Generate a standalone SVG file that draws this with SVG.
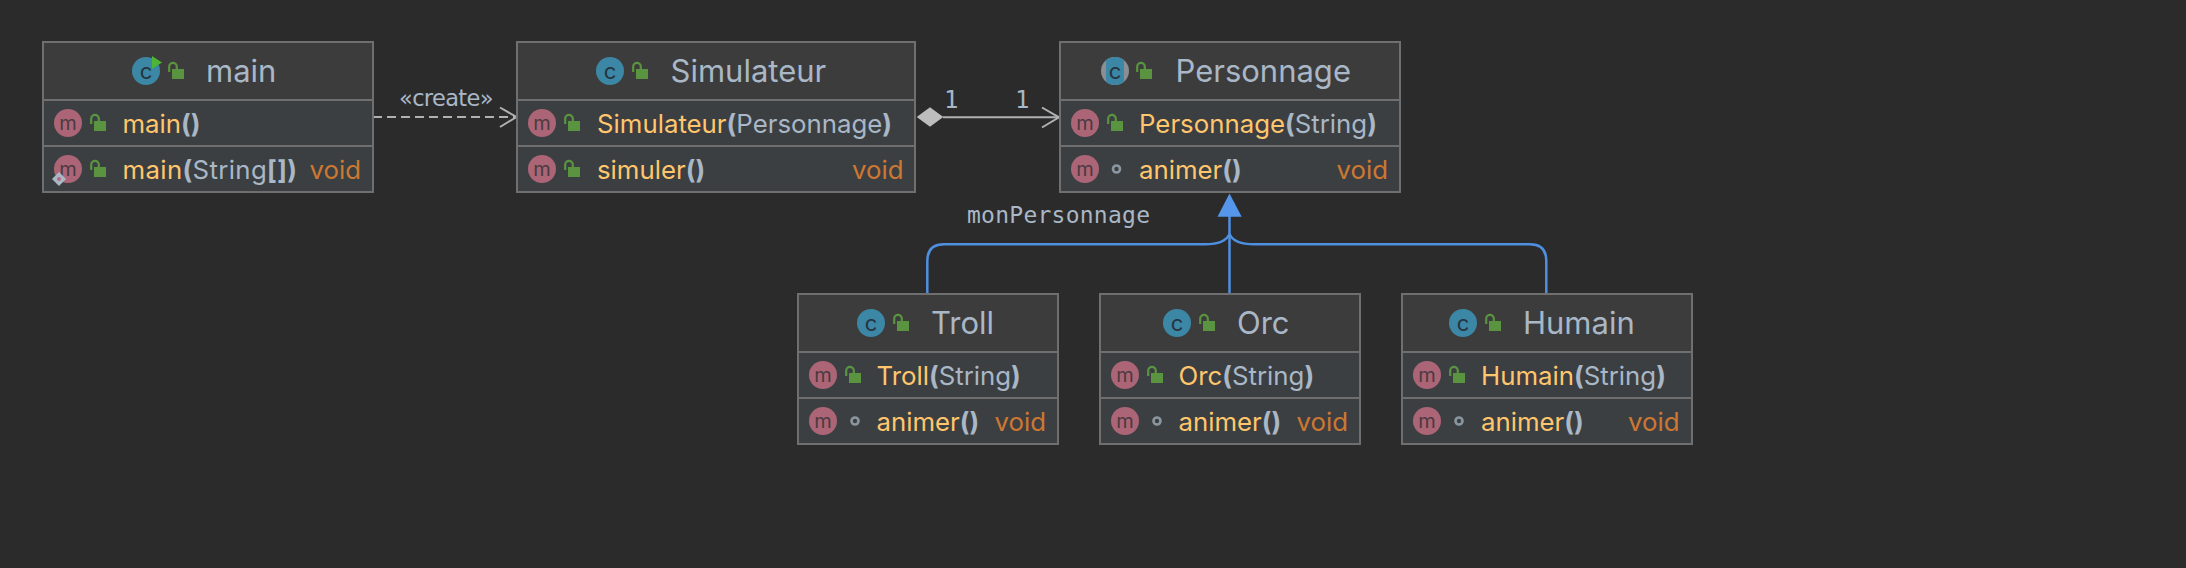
<svg xmlns="http://www.w3.org/2000/svg" width="2186" height="568" viewBox="0 0 2186 568">
<style>
.bg{fill:#2b2b2b}
.box{fill:#3c3f41;stroke:#6f6f6f;stroke-width:2}
.head{fill:#3c3c3c}
.sep{stroke:#6f6f6f;stroke-width:2;fill:none}
text{font-family:"Inter","Liberation Sans",sans-serif}
.title{font-size:31px;fill:#a9b7c6}
.row{font-size:25.800px;fill:#a9b7c6}
.n{fill:#ffc66d}
.b{font-weight:700}
.v{fill:#cc7832}
.lab{font-family:"DejaVu Sans Mono","Liberation Mono",monospace;font-size:23px;fill:#a9b7c6}
.cr{font-family:"DejaVu Sans","Liberation Sans",sans-serif;font-size:22.500px;fill:#a9b7c6}
.line{stroke:#afb1b3;stroke-width:2;fill:none}
.blue{stroke:#4f8fe0;stroke-width:2.500;fill:none}
.lk{fill:#5a9440}
.lks{fill:none;stroke:#5a9440;stroke-width:2.200}
.ct{font-size:22px;fill:#26343f;text-anchor:middle}
.mt{font-size:20px;fill:#4a3a40;text-anchor:middle}
</style>
<defs>
<g id="ic"><circle r="14" fill="#3b87a5"/><text class="ct" y="7.500">c</text></g>
<clipPath id="mid"><rect x="-9" y="-14" width="18" height="28"/></clipPath>
<g id="ia"><circle r="14" fill="#8a8f94"/><circle r="14" fill="#3b87a5" clip-path="url(#mid)"/><text class="ct" y="7.500">c</text></g>
<g id="im"><circle r="14" fill="#ab6576"/><text class="mt" y="6.500">m</text></g>
<g id="lk"><rect x="4" y="6" width="12" height="10" class="lk"/><path d="M1.200 9V3.600a3.800 3.800 0 0 1 7.600 0V6" class="lks"/></g>
<circle id="pk" r="3.500" fill="none" stroke="#8a96a0" stroke-width="2.600"/>
</defs>
<rect class="bg" width="2186" height="568"/>
<g id="connectors">
<path class="line" d="M373 117H516" stroke-dasharray="9 5"/>
<path class="line" d="M500 107.500L516.500 117L500 127"/>
<text class="cr" x="399" y="105.500" textLength="94.500" lengthAdjust="spacing">«create»</text>
<path class="line" d="M943 117.300H1059"/>
<path class="line" d="M1042 107.500L1059 117.300L1042 127.500"/>
<path d="M916.700 117L930 107.300L943.300 117L930 126.700Z" fill="#bdbdbd"/>
<text class="lab" x="944" y="107.500" style="font-size:24px">1</text>
<text class="lab" x="1015" y="107.500" style="font-size:24px">1</text>
<text class="lab" x="967" y="223.300" textLength="183" lengthAdjust="spacing">monPersonnage</text>
<path class="blue" d="M1229.500 294V214"/>
<path class="blue" d="M927.300 294V261Q927.300 244.300 944 244.300H1205Q1225 244.300 1229.500 234"/>
<path class="blue" d="M1546.300 294V261Q1546.300 244.300 1530 244.300H1254Q1234 244.300 1229.500 234"/>
<path d="M1229.500 193.500L1241.700 216.800H1217.500Z" fill="#5596ea"/>
</g>
<g id="main">
<rect class="box" x="43" y="42" width="330" height="150"/>
<rect class="head" x="44" y="43" width="328" height="57"/>
<path class="sep" d="M43 100H373M43 146H373"/>
<use href="#ic" x="146" y="71"/>
<path d="M152 56L162 62.500L152 69Z" fill="#4cb534"/>
<use href="#lk" x="168" y="63"/>
<text class="title" x="206" y="82">main</text>
<use href="#im" x="68" y="123"/><use href="#lk" x="90" y="115"/>
<text class="row" x="122.500" y="133"><tspan class="n">main</tspan><tspan class="b">()</tspan></text>
<use href="#im" x="68" y="169"/><use href="#lk" x="90" y="161"/>
<path d="M59 172L66 179L59 186L52 179Z" fill="#a9b7c6"/><circle cx="59" cy="179" r="2" fill="#b56a7c"/>
<text class="row" x="122.500" y="179" style="letter-spacing:.35px"><tspan class="n">main</tspan><tspan class="b">(</tspan>String<tspan class="b">[])</tspan></text>
<text class="row v" x="309.500" y="179">void</text>
</g>
<g id="simulateur">
<rect class="box" x="517" y="42" width="398" height="150"/>
<rect class="head" x="518" y="43" width="396" height="57"/>
<path class="sep" d="M517 100H915M517 146H915"/>
<use href="#ic" x="610" y="71"/>
<use href="#lk" x="632" y="63"/>
<text class="title" x="670.500" y="82">Simulateur</text>
<use href="#im" x="542" y="123"/><use href="#lk" x="564" y="115"/>
<text class="row" x="597" y="133"><tspan class="n">Simulateur</tspan><tspan class="b">(</tspan>Personnage<tspan class="b">)</tspan></text>
<use href="#im" x="542" y="169"/><use href="#lk" x="564" y="161"/>
<text class="row" x="597" y="179"><tspan class="n">simuler</tspan><tspan class="b">()</tspan></text>
<text class="row v" x="852" y="179">void</text>
</g>
<g id="personnage">
<rect class="box" x="1060" y="42" width="340" height="150"/>
<rect class="head" x="1061" y="43" width="338" height="57"/>
<path class="sep" d="M1060 100H1400M1060 146H1400"/>
<use href="#ia" x="1115" y="71"/>
<use href="#lk" x="1136" y="63"/>
<text class="title" x="1175.500" y="82">Personnage</text>
<use href="#im" x="1085" y="123"/><use href="#lk" x="1107" y="115"/>
<text class="row" x="1139" y="133"><tspan class="n">Personnage</tspan><tspan class="b">(</tspan>String<tspan class="b">)</tspan></text>
<use href="#im" x="1085" y="169"/><use href="#pk" x="1116.500" y="169"/>
<text class="row" x="1139" y="179"><tspan class="n">animer</tspan><tspan class="b">()</tspan></text>
<text class="row v" x="1336.500" y="179">void</text>
</g>
<g id="troll">
<rect class="box" x="798" y="294" width="260" height="150"/>
<rect class="head" x="799" y="295" width="258" height="57"/>
<path class="sep" d="M798 352H1058M798 398H1058"/>
<use href="#ic" x="871" y="323"/>
<use href="#lk" x="893" y="315"/>
<text class="title" x="931" y="334">Troll</text>
<use href="#im" x="823" y="375"/><use href="#lk" x="845" y="367"/>
<text class="row" x="876.500" y="385"><tspan class="n">Troll</tspan><tspan class="b">(</tspan>String<tspan class="b">)</tspan></text>
<use href="#im" x="823" y="421"/><use href="#pk" x="855" y="421"/>
<text class="row" x="876.500" y="431"><tspan class="n">animer</tspan><tspan class="b">()</tspan></text>
<text class="row v" x="994.500" y="431">void</text>
</g>
<g id="orc">
<rect class="box" x="1100" y="294" width="260" height="150"/>
<rect class="head" x="1101" y="295" width="258" height="57"/>
<path class="sep" d="M1100 352H1360M1100 398H1360"/>
<use href="#ic" x="1177" y="323"/>
<use href="#lk" x="1199" y="315"/>
<text class="title" x="1237" y="334">Orc</text>
<use href="#im" x="1125" y="375"/><use href="#lk" x="1147" y="367"/>
<text class="row" x="1178.500" y="385"><tspan class="n">Orc</tspan><tspan class="b">(</tspan>String<tspan class="b">)</tspan></text>
<use href="#im" x="1125" y="421"/><use href="#pk" x="1157" y="421"/>
<text class="row" x="1178.500" y="431"><tspan class="n">animer</tspan><tspan class="b">()</tspan></text>
<text class="row v" x="1296.500" y="431">void</text>
</g>
<g id="humain">
<rect class="box" x="1402" y="294" width="290" height="150"/>
<rect class="head" x="1403" y="295" width="288" height="57"/>
<path class="sep" d="M1402 352H1692M1402 398H1692"/>
<use href="#ic" x="1463" y="323"/>
<use href="#lk" x="1485" y="315"/>
<text class="title" x="1523" y="334">Humain</text>
<use href="#im" x="1427" y="375"/><use href="#lk" x="1449" y="367"/>
<text class="row" x="1481" y="385"><tspan class="n">Humain</tspan><tspan class="b">(</tspan>String<tspan class="b">)</tspan></text>
<use href="#im" x="1427" y="421"/><use href="#pk" x="1459" y="421"/>
<text class="row" x="1481" y="431"><tspan class="n">animer</tspan><tspan class="b">()</tspan></text>
<text class="row v" x="1628" y="431">void</text>
</g>
</svg>
